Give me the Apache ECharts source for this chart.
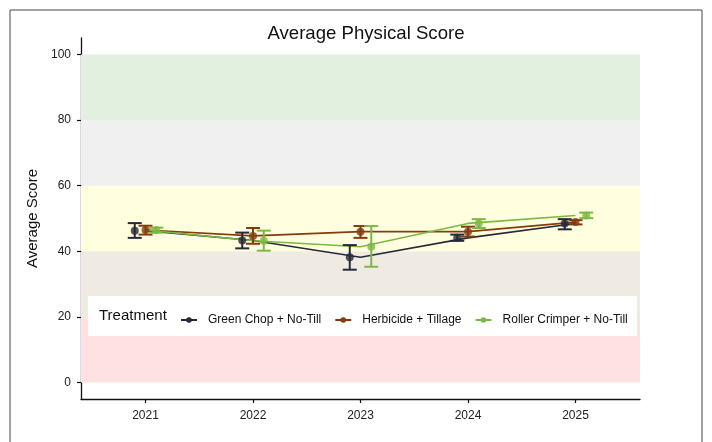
<!DOCTYPE html>
<html>
<head>
<meta charset="utf-8">
<script src="https://cdn.jsdelivr.net/npm/echarts@6/dist/echarts.min.js"></script>
<style>
html,body{margin:0;padding:0;background:#fff;}
#chart{width:712px;height:442px;}
</style>
</head>
<body>
<div id="chart"></div>
<script>
const years = [2021, 2022, 2023, 2024, 2025];
const treatments = ['Green Chop + No-Till', 'Herbicide + Tillage', 'Roller Crimper + No-Till'];
const greenChopMean = [46.3, 43.3, 38.2, 44.1, 48.5];
const greenChopLow  = [44.1, 40.9, 34.4, 43.2, 46.7];
const greenChopHigh = [48.6, 45.7, 41.9, 45.1, 49.8];
const herbicideMean = [46.5, 44.7, 46.0, 46.0, 48.9];
const herbicideLow  = [45.1, 42.3, 44.1, 44.5, 48.2];
const herbicideHigh = [47.8, 47.1, 47.7, 47.5, 49.5];
const rollerMean = [46.5, 43.2, 41.4, 48.5, 50.9];
const rollerLow  = [45.7, 40.2, 35.3, 47.1, 50.1];
const rollerHigh = [47.2, 46.3, 47.7, 49.8, 51.8];
const yTicks = [0, 20, 40, 60, 80, 100];
const bands = [[0, 20], [20, 40], [40, 60], [60, 80], [80, 100]];

const bandColors = ['#ffe1e1', '#efebe2', '#ffffe0', '#f0f0f0', '#e1f0df'];
const colors = ['#28283a', '#833c0c', '#7cb843'];
const dodgeOffsets = [-0.1, 0, 0.1];
const FONT = 'Liberation Sans, Arial, Helvetica, sans-serif';

const series = [];
const groups = [
  {mean: greenChopMean, low: greenChopLow, high: greenChopHigh},
  {mean: herbicideMean, low: herbicideLow, high: herbicideHigh},
  {mean: rollerMean, low: rollerLow, high: rollerHigh}
];

groups.forEach((g, i) => {
  const s = {
    name: treatments[i],
    type: 'line',
    data: years.map((y, k) => [y, g.mean[k]]),
    symbol: 'circle',
    symbolSize: 7,
    showSymbol: false,
    lineStyle: {color: colors[i], width: 1.6},
    itemStyle: {color: colors[i]},
    z: 3,
    silent: true
  };
  if (i === 0) {
    s.markArea = {
      silent: true,
      data: bands.map((b, k) => [
        {yAxis: b[0], itemStyle: {color: bandColors[k]}},
        {yAxis: b[1]}
      ])
    };
  }
  series.push(s);
});

groups.forEach((g, i) => {
  series.push({
    name: treatments[i],
    type: 'custom',
    z: 4,
    silent: true,
    data: years.map((y, k) => [y + dodgeOffsets[i], g.low[k], g.high[k]]),
    renderItem: function (params, api) {
      const x = api.value(0);
      const lo = api.coord([x, api.value(1)]);
      const hi = api.coord([x, api.value(2)]);
      const hw = 7;
      const st = {stroke: colors[i], lineWidth: 2};
      return {
        type: 'group',
        children: [
          {type: 'line', shape: {x1: lo[0], y1: lo[1], x2: hi[0], y2: hi[1]}, style: st},
          {type: 'line', shape: {x1: lo[0] - hw, y1: lo[1], x2: lo[0] + hw, y2: lo[1]}, style: st},
          {type: 'line', shape: {x1: hi[0] - hw, y1: hi[1], x2: hi[0] + hw, y2: hi[1]}, style: st}
        ]
      };
    }
  });
  series.push({
    name: treatments[i],
    type: 'scatter',
    z: 5,
    silent: true,
    symbol: 'circle',
    symbolSize: 8,
    itemStyle: {color: colors[i]},
    data: years.map((y, k) => [y + dodgeOffsets[i], g.mean[k]])
  });
});

const chart = echarts.init(document.getElementById('chart'));
chart.setOption({
  animation: false,
  backgroundColor: '#ffffff',
  title: {
    text: 'Average Physical Score',
    left: 361,
    textAlign: 'center',
    top: 19,
    textStyle: {fontFamily: FONT, fontSize: 18.6, fontWeight: 'normal', color: '#111'}
  },
  grid: {left: 81, right: 72, top: 38, bottom: 43},
  xAxis: {
    type: 'value',
    min: 2020.4,
    max: 2025.6,
    splitLine: {show: false},
    axisLine: {show: true, onZero: false, lineStyle: {color: '#111', width: 1.3}},
    axisTick: {show: true, length: 4, customValues: years, lineStyle: {color: '#111', width: 1.2}},
    axisLabel: {
      customValues: years,
      margin: 11,
      color: '#222',
      fontFamily: FONT,
      fontSize: 12,
      formatter: v => String(Math.round(v))
    }
  },
  yAxis: {
    type: 'value',
    min: -5,
    max: 105,
    name: 'Average Score',
    nameLocation: 'middle',
    nameGap: 40,
    nameTextStyle: {fontFamily: FONT, fontSize: 15, color: '#111'},
    splitLine: {show: false},
    axisLine: {show: true, onZero: false, lineStyle: {color: '#111', width: 1.3}},
    axisTick: {show: true, length: 4, customValues: yTicks, lineStyle: {color: '#111', width: 1.2}},
    axisLabel: {
      customValues: yTicks,
      margin: 10,
      color: '#222',
      fontFamily: FONT,
      fontSize: 12
    }
  },
  legend: {
    data: treatments,
    left: 175,
    top: 309,
    itemWidth: 16,
    itemHeight: 7,
    itemGap: 13,
    selectedMode: false,
    z: 10,
    textStyle: {fontFamily: FONT, fontSize: 12, color: '#111', padding: [0, 0, 0, 6]}
  },
  graphic: [
    {
      type: 'rect',
      z: 8,
      shape: {x: 10, y: 10, width: 692, height: 450},
      style: {fill: 'none', stroke: '#444', lineWidth: 1}
    },
    {
      type: 'rect',
      z: 8,
      shape: {x: 88, y: 296, width: 549, height: 40},
      style: {fill: '#ffffff'}
    },
    {
      type: 'text',
      z: 9,
      x: 99,
      y: 316,
      style: {text: 'Treatment', fontFamily: FONT, fontSize: 15, fill: '#111', verticalAlign: 'middle'}
    }
  ],
  series: series
});
</script>
</body>
</html>
